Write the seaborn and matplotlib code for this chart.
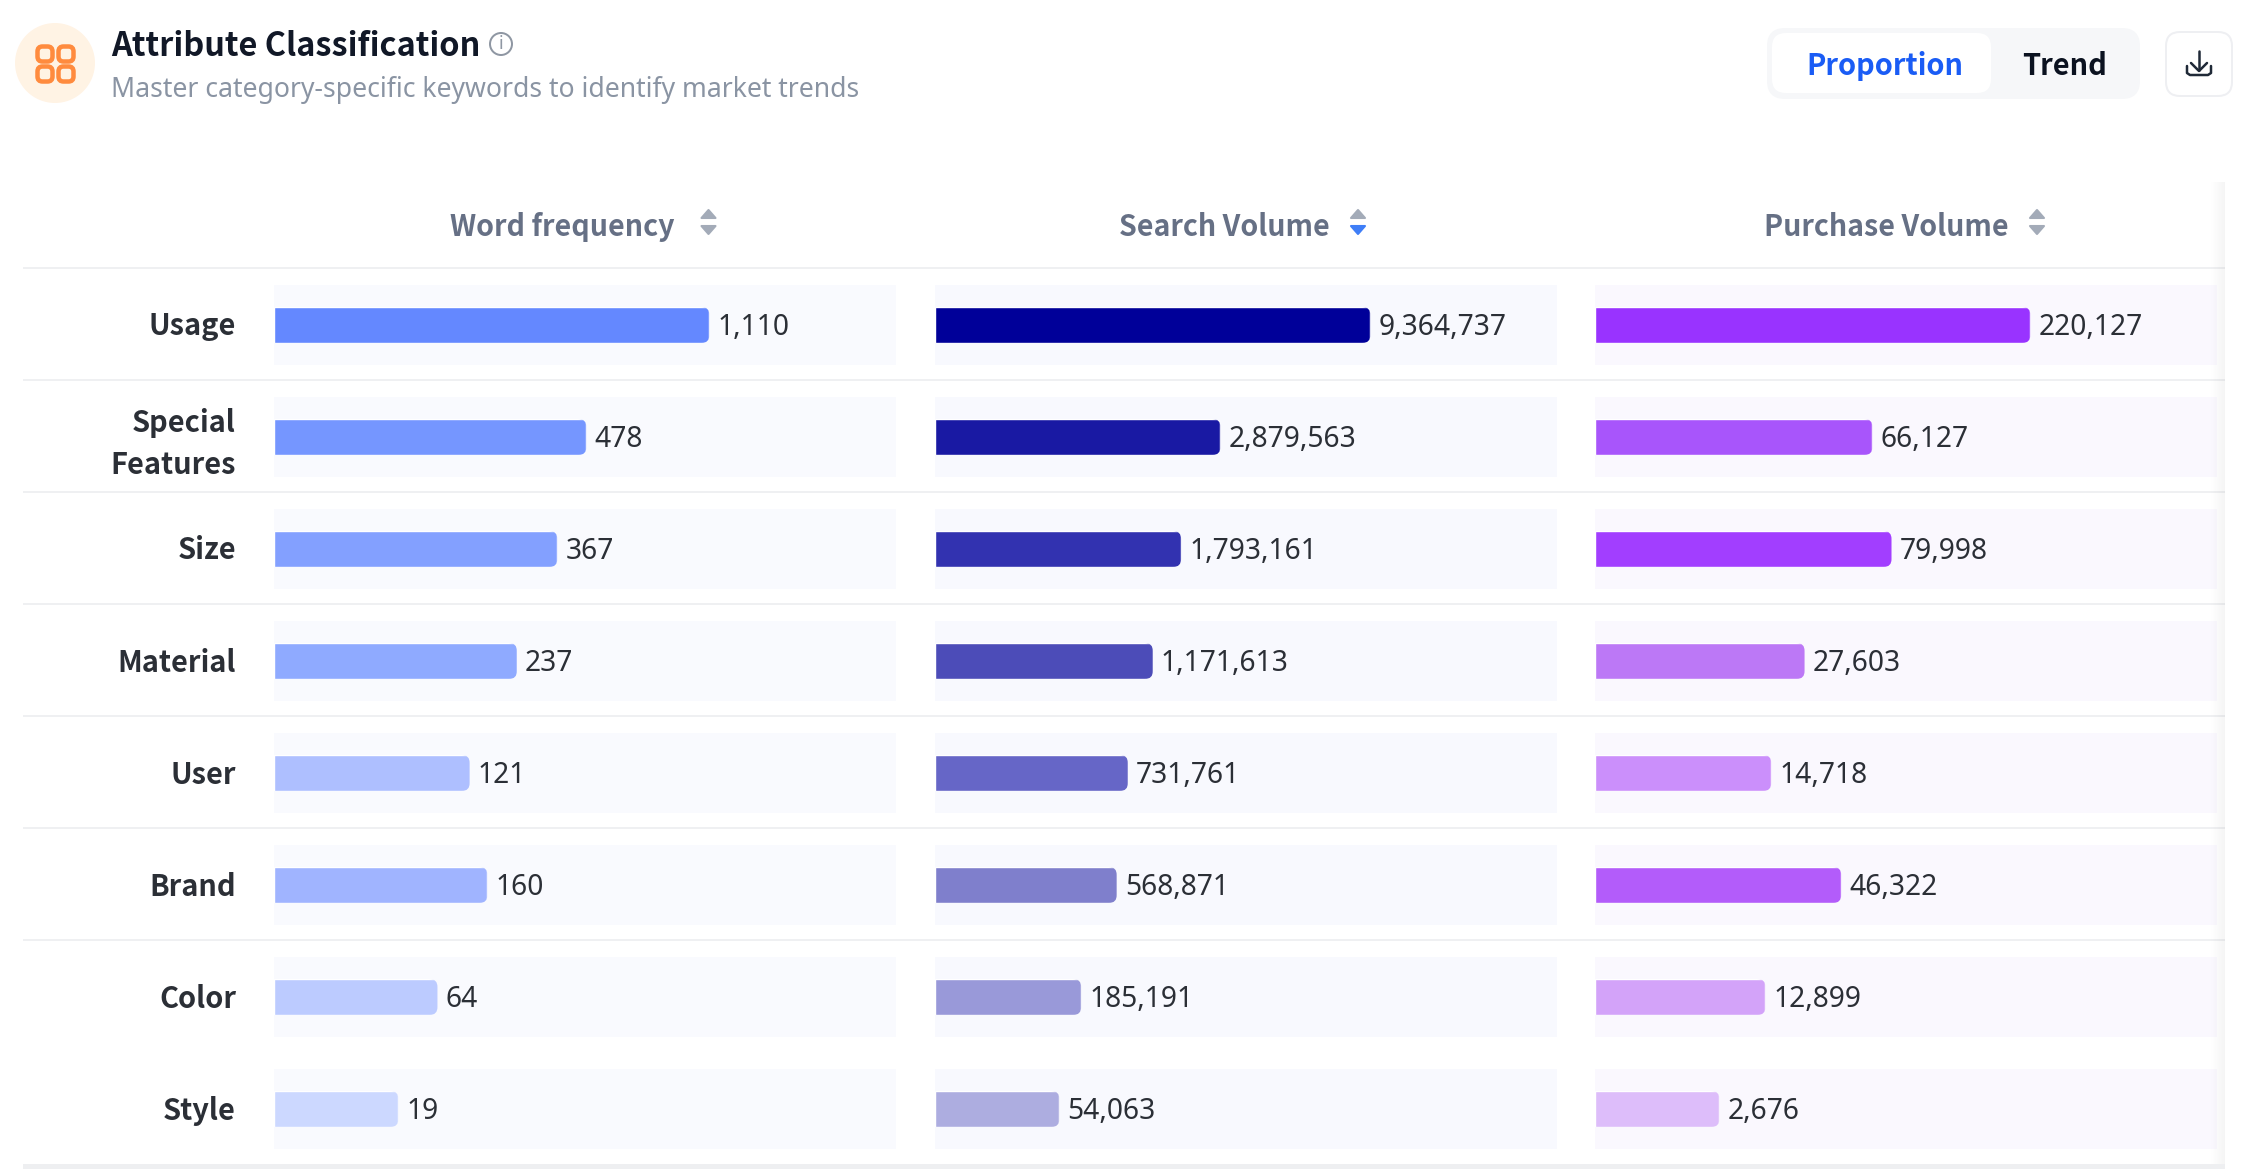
import numpy as np
import pandas as pd
import matplotlib
matplotlib.use("Agg")
import matplotlib.pyplot as plt
import seaborn as sns
from matplotlib.patches import FancyBboxPatch, Circle, Rectangle, Polygon
from matplotlib.transforms import IdentityTransform, ScaledTranslation

# ---------- data ----------
attributes = ["Usage", "Special\nFeatures", "Size", "Material", "User", "Brand", "Color", "Style"]
word_frequency = [1110, 478, 367, 237, 121, 160, 64, 19]
search_volume = [9364737, 2879563, 1793161, 1171613, 731761, 568871, 185191, 54063]
purchase_volume = [220127, 66127, 79998, 27603, 14718, 46322, 12899, 2676]
column_titles = ["Word frequency", "Search Volume", "Purchase Volume"]
title_text = "Attribute Classification"
subtitle_text = "Master category-specific keywords to identify market trends"
toggle_labels = ["Proportion", "Trend"]

# ---------- palettes ----------
blue_colors = ["#6488FF", "#7596FF", "#83A0FF", "#8FAAFF", "#AEBFFF", "#A0B4FF", "#BCCBFF", "#CCD8FF"]
navy_colors = ["#000099", "#1919A3", "#3232B0", "#4C4CB8", "#6666C7", "#7F7FCC", "#9999D9", "#ADADE0"]
purple_colors = ["#9933FF", "#A855FB", "#A23EFF", "#BC78F6", "#CB8FFB", "#B35CFA", "#D3A3F9", "#DDBDFA"]
track_colors = ["#F9FAFE", "#F8F9FE", "#FAF8FE"]

W, H = 2252, 1169
plt.rcParams["figure.dpi"] = 100
sns.set_theme(style="white")
plt.rcParams["font.family"] = ["Noto Sans", "DejaVu Sans"]
BOLD = ["Noto Sans CJK SC", "DejaVu Sans"]

fig = plt.figure(figsize=(W / 100, H / 100), dpi=100, facecolor="white")


def px(v):
    return v * 72 / 100


# page-level axes in pixel space for the chrome around the table
bg = fig.add_axes([0, 0, 1, 1], zorder=0)
bg.set_xlim(0, W)
bg.set_ylim(H, 0)
bg.axis("off")

fg = fig.add_axes([0, 0, 1, 1], zorder=5)
fg.set_xlim(0, W)
fg.set_ylim(H, 0)
fg.axis("off")
fg.patch.set_alpha(0)

# right-hand scroll shadow (fades in over the table edge)
for i, alpha in enumerate(np.linspace(0.0, 0.04, 15)):
    fg.add_patch(Rectangle((2210 + i, 182), 1, 982, color="black", alpha=alpha, lw=0))

# table rules
for y in [268 + 112 * i for i in range(7)]:
    bg.plot([23, 2225], [y, y], color="#EFF0F2", lw=px(2), solid_capstyle="butt")
bg.add_patch(Rectangle((23, 1164), 2202, 5, color="#EEEFF1", lw=0))

# header icon
bg.add_patch(Circle((55, 63), 40, color="#FFF3E4", lw=0))
for cx in (45, 66):
    for cy in (54, 74):
        bg.add_patch(FancyBboxPatch((cx - 7.5, cy - 7.5), 15, 15,
                                    boxstyle="round,pad=0,rounding_size=5",
                                    fc="none", ec="#FF8B3E", lw=px(4.5)))

# title block
bg.text(111, 46.5, title_text, fontsize=px(32.5), family=BOLD, fontweight="bold", color="#111827", va="center", ha="left")
bg.text(111, 90, subtitle_text, fontsize=px(26.6), color="#8A94A3", va="center", ha="left")
bg.add_patch(Circle((501, 44), 11, fc="none", ec="#8F97A3", lw=px(2)))
bg.text(501, 44, "i", fontsize=px(18), color="#8F97A3", va="center", ha="center")

# toggle
bg.add_patch(FancyBboxPatch((1781, 42), 345, 43, boxstyle="round,pad=14,rounding_size=18", fc="#F6F7F9", ec="none"))
bg.add_patch(FancyBboxPatch((1786, 47), 191, 32, boxstyle="round,pad=14,rounding_size=14", fc="white", ec="none"))
bg.text(1885, 66, toggle_labels[0], fontsize=px(29), family=BOLD, fontweight="bold", color="#1A5CF5", va="center", ha="center")
bg.text(2065, 66, toggle_labels[1], fontsize=px(29), family=BOLD, fontweight="bold", color="#0B1220", va="center", ha="center")

# download button
bg.add_patch(FancyBboxPatch((2180, 46), 38, 36, boxstyle="round,pad=14,rounding_size=14", fc="white", ec="#EEEFF2", lw=px(2)))
ic = "#1F2937"
bg.plot([2199, 2199], [51, 70], color=ic, lw=px(2.5), solid_capstyle="round")
bg.plot([2191, 2199, 2207], [63, 71, 63], color=ic, lw=px(2.5), solid_joinstyle="round", solid_capstyle="round")
bg.plot([2187, 2187, 2190, 2208, 2211, 2211], [66, 73, 75, 75, 73, 66], color=ic, lw=px(2.5), solid_joinstyle="round", solid_capstyle="round")

# column headers and sort carets
title_centers = [562.5, 1224, 1886.5]
caret_x = [708.5, 1358, 2037]
caret_low = ["#A3ABB8", "#3F7EF7", "#A3ABB8"]
for tx, cx, low, name in zip(title_centers, caret_x, caret_low, column_titles):
    bg.text(tx, 226.5, name, fontsize=px(28.6), family=BOLD, fontweight="bold", color="#667085", va="center", ha="center")
    bg.add_patch(Polygon([(cx - 7, 218), (cx + 7, 218), (cx, 210)], closed=True, fc="#A3ABB8", ec="#A3ABB8", lw=1.5, joinstyle="round"))
    bg.add_patch(Polygon([(cx - 7, 226), (cx + 7, 226), (cx, 234)], closed=True, fc=low, ec=low, lw=1.5, joinstyle="round"))

# ---------- the three bar panels ----------
left_edges = [274, 935, 1595]
track_w = 622
top, bottom = 269, 269 + 8 * 112
series = [word_frequency, search_volume, purchase_volume]
palettes = [blue_colors, navy_colors, purple_colors]

axes = []
for j, (left, vals, pal, trk) in enumerate(zip(left_edges, series, palettes, track_colors)):
    ax = fig.add_axes([left / W, 1 - bottom / H, track_w / W, (bottom - top) / H], zorder=1)
    ax.patch.set_alpha(0)
    df = pd.DataFrame({"attribute": attributes, "value": vals})
    sns.barplot(data=df, y="attribute", x="value", hue="attribute", order=attributes, hue_order=attributes,
                palette=pal, dodge=False, legend=False, width=36 / 112, saturation=1, ax=ax, zorder=3)
    for i in range(len(attributes)):
        ax.axhspan(i - 40 / 112, i + 40 / 112, color=trk, lw=0, zorder=1)

    # square-root length scale: the smallest value takes 20% of the track, the largest 70%
    s0, s1 = np.sqrt(min(vals)), np.sqrt(max(vals))

    def forward(v, s0=s0, s1=s1):
        v = np.asarray(v, dtype=float)
        return np.where(v > 0, 0.2 + 0.5 * (np.sqrt(np.maximum(v, 0)) - s0) / (s1 - s0), 0.0)

    def inverse(y, s0=s0, s1=s1):
        y = np.asarray(y, dtype=float)
        root = s0 + (y - 0.2) / 0.5 * (s1 - s0)
        return np.where(y >= 0.2, root ** 2, 0.0)

    ax.set_xscale("function", functions=(forward, inverse))
    ax.set_xlim(0, (s0 + 1.6 * (s1 - s0)) ** 2)
    ax.set_ylim(len(attributes) - 0.5, -0.5)
    ax.set_xticks([])
    ax.minorticks_off()
    ax.set_xlabel("")
    ax.set_ylabel("")
    for s in ax.spines.values():
        s.set_visible(False)
    for k, cont in enumerate(ax.containers):
        for ann in ax.bar_label(cont, labels=[f"{vals[k]:,}"], padding=px(8), fontsize=px(28.2), color="#2B2F36", zorder=4):
            ann.xyann = (ann.xyann[0], ann.xyann[1] - px(2.5))
    if j == 0:
        ax.tick_params(axis="y", length=0, pad=px(38))
        ax.set_yticks(range(len(attributes)))
        ax.set_yticklabels(attributes, fontsize=px(29), family=BOLD, fontweight="bold", color="#2B2F36", ma="right", linespacing=1.5)
        nudge = ScaledTranslation(0, px(1.5) / 72, fig.dpi_scale_trans)
        for lab in ax.get_yticklabels():
            lab.set_transform(lab.get_transform() + nudge)
    else:
        ax.set_yticks([])
    axes.append(ax)

# round the bar ends by clipping each bar to a rounded box taken from its own extent
fig.canvas.draw()
renderer = fig.canvas.get_renderer()
for ax in axes:
    for cont in ax.containers:
        for bar in cont:
            if not hasattr(bar, "get_window_extent"):
                continue
            e = bar.get_window_extent(renderer)
            clip = FancyBboxPatch((e.x0 - 20, e.y0), e.width + 20, e.height,
                                  boxstyle="round,pad=0,rounding_size=8",
                                  transform=IdentityTransform())
            bar.set_clip_path(clip)

fig.savefig("out.png", dpi=100, facecolor="white")
